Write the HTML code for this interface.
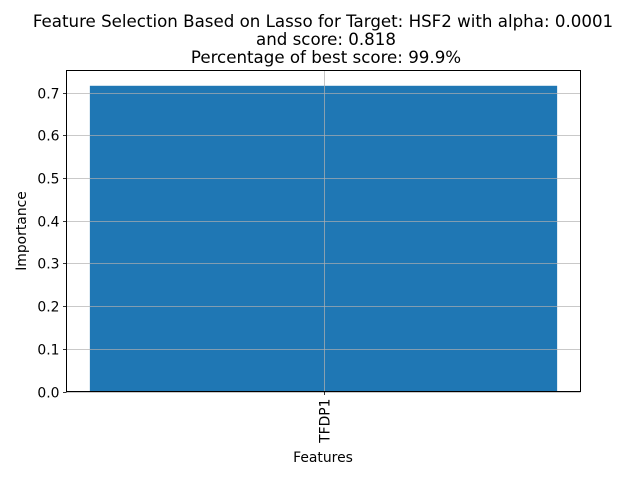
<!DOCTYPE html>
<html><head><meta charset="utf-8"><style>
body{margin:0;background:#fff;}
svg text{font-family:"DejaVu Sans","Liberation Sans",sans-serif;fill:#000;}
</style></head><body>
<svg id="chart" width="640" height="480" xmlns="http://www.w3.org/2000/svg">
<rect width="640" height="480" fill="#fff"/>
<text x="323" y="27" font-size="16.67" text-anchor="middle">Feature Selection Based on Lasso for Target: HSF2 with alpha: 0.0001</text>
<text x="326" y="45" font-size="16.67" text-anchor="middle">and score: 0.818</text>
<text x="326" y="63" font-size="16.67" text-anchor="middle">Percentage of best score: 99.9%</text>
<g id="plot"></g>
<rect x="66.5" y="70.5" width="514" height="321" fill="none" stroke="#000" stroke-width="1"/>
<text transform="translate(26,231) rotate(-90)" font-size="13.9" text-anchor="middle">Importance</text>
<text x="323" y="462" font-size="13.9" text-anchor="middle">Features</text>
</svg>
<script>
const categories = ["TFDP1"];
const values = [0.7164];
const yTicks = [0, 0.1, 0.2, 0.3, 0.4, 0.5, 0.6, 0.7];
const yTickLabels = ["0.0","0.1","0.2","0.3","0.4","0.5","0.6","0.7"];

const L=66.5, R=580.5, T=70.5, B=391.5;
const ns="http://www.w3.org/2000/svg";
const g=document.getElementById('plot');
const ymax=Math.max(...values)*1.05;
const n=categories.length;
const xmin=-0.44, xmax=n-1+0.44;
function xs(v){return L+(v-xmin)/(xmax-xmin)*(R-L);}
function ys(v){return B-v/ymax*(B-T);}
function mk(tag,attrs){const e=document.createElementNS(ns,tag);for(const k in attrs)e.setAttribute(k,attrs[k]);g.appendChild(e);return e;}

values.forEach((v,i)=>{
  const b=mk('rect',{x:xs(i-0.4),y:ys(v),width:xs(i+0.4)-xs(i-0.4),height:B-ys(v),fill:'#1f77b4'});
  
  
});
yTicks.forEach((t,i)=>{
  const y=Math.round(ys(t))+0.5;
  const gl=mk('line',{x1:L,x2:R,y1:y,y2:y,stroke:'#b0b0b0','stroke-width':0.8,opacity:0.9});
  
  
  const tk=mk('line',{x1:L-3.5,x2:L,y1:y,y2:y,stroke:'#000','stroke-width':0.8});
  
  
  const tx=mk('text',{x:L-7,y:y+5,'font-size':13.9,'text-anchor':'end'});
  tx.textContent=yTickLabels[i];
  
  
});
categories.forEach((c,i)=>{
  const x=Math.round(xs(i))+0.5;
  const gl=mk('line',{x1:x,x2:x,y1:T,y2:B,stroke:'#b0b0b0','stroke-width':0.8,opacity:0.9});
  
  
  const tk=mk('line',{x1:x,x2:x,y1:B,y2:B+3.5,stroke:'#000','stroke-width':0.8});
  
  
  const tx=mk('text',{transform:`translate(${x+5},${B+7}) rotate(-90)`,'font-size':13.9,'text-anchor':'end'});
  tx.textContent=c;
  
  
});
</script>
</body></html>
